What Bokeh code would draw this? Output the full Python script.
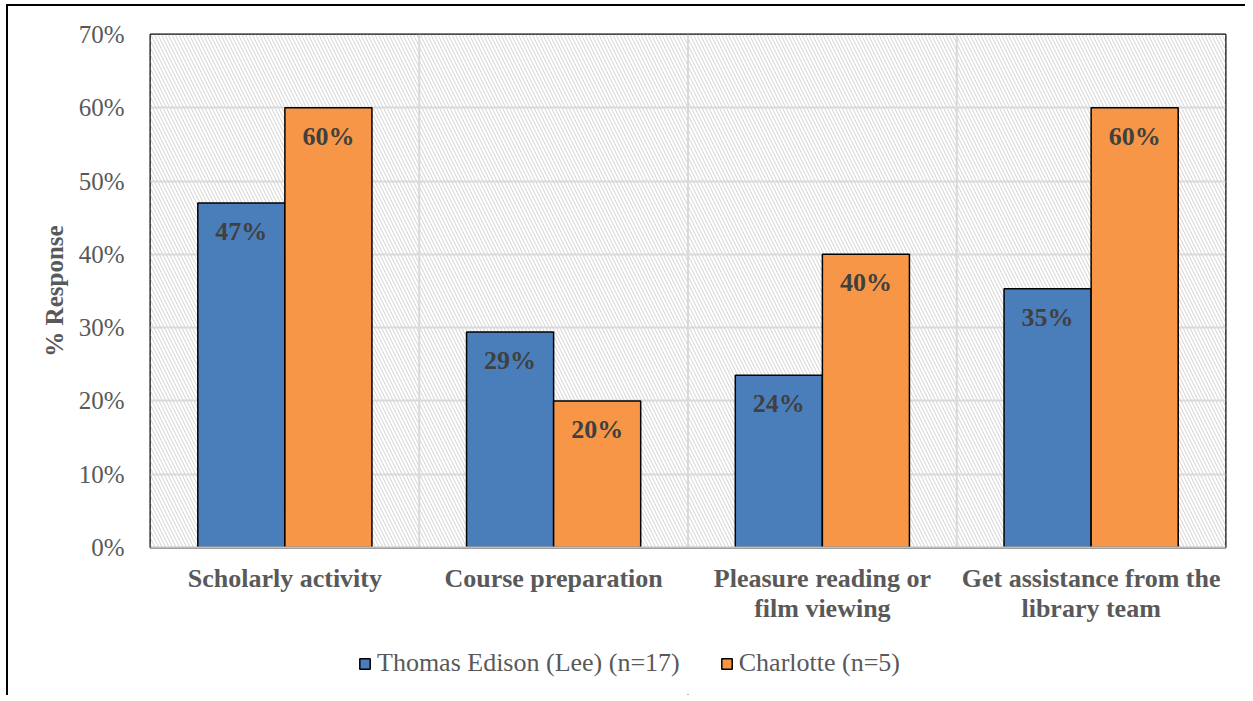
from bokeh.plotting import figure
from bokeh.layouts import column
from bokeh.models import (FactorRange, Range1d, ColumnDataSource, BoxAnnotation, Span,
                          Legend, LegendItem, NumeralTickFormatter, FixedTicker)
from bokeh.transform import dodge
from bokeh.core.properties import value
from bokeh.embed import file_html
from bokeh.resources import INLINE

categories = ["Scholarly activity", "Course preparation",
              "Pleasure reading or\nfilm viewing", "Get assistance from the\nlibrary team"]
series_names = ["Thomas Edison (Lee) (n=17)", "Charlotte (n=5)"]
thomas = [0.47, 0.294, 0.235, 0.353]
charlotte = [0.60, 0.20, 0.40, 0.60]
y_ticks = [0.0, 0.1, 0.2, 0.3, 0.4, 0.5, 0.6, 0.7]

FONT = "Liberation Serif"
GRAY = "#595959"
BLUE = "#4a7ebb"
ORANGE = "#f79646"

src = ColumnDataSource(dict(
    cat=categories,
    thomas=thomas,
    charlotte=charlotte,
    thomas_lbl=[f"{round(v * 100)}%" for v in thomas],
    charlotte_lbl=[f"{round(v * 100)}%" for v in charlotte],
))

p = figure(x_range=FactorRange(*categories), y_range=Range1d(0, 0.7),
           width=1237, height=619, output_backend="svg", toolbar_location=None,
           min_border_left=142, min_border_top=28, min_border_right=20, min_border_bottom=77)

# hatched background
bg = BoxAnnotation(fill_color="white", fill_alpha=1.0, line_color=None,
                   hatch_pattern="\\", hatch_color="#d2d2d2", hatch_scale=7,
                   hatch_weight=1.0, level="image")
p.add_layout(bg)

p.ygrid.grid_line_color = "#d9d9d9"
p.ygrid.grid_line_width = 2
p.ygrid.ticker = FixedTicker(ticks=y_ticks)
p.xgrid.visible = False
for b in [1, 2, 3]:
    p.add_layout(Span(location=b, dimension="height", line_color="#d9d9d9",
                      line_width=2, level="underlay"))

bw = 0.324
p.vbar(x=dodge("cat", -bw / 2, range=p.x_range), top="thomas", width=bw, source=src,
       fill_color=BLUE, line_color="black", line_width=1.5)
p.vbar(x=dodge("cat", bw / 2, range=p.x_range), top="charlotte", width=bw, source=src,
       fill_color=ORANGE, line_color="black", line_width=1.5)

for col, off in [("thomas", -bw / 2), ("charlotte", bw / 2)]:
    p.text(x=dodge("cat", off, range=p.x_range), y=col, text=col + "_lbl", source=src,
           text_font=value(FONT), text_font_style="bold", text_font_size="26px",
           text_color="#404040", text_align="center", text_baseline="top", y_offset=14)

p.outline_line_color = "black"
p.outline_line_width = 2

p.yaxis.ticker = FixedTicker(ticks=y_ticks)
p.yaxis.formatter = NumeralTickFormatter(format="0%")
p.yaxis.axis_line_color = None
p.yaxis.major_tick_line_color = None
p.yaxis.minor_tick_line_color = None
p.yaxis.major_label_standoff = 20
p.yaxis.major_label_text_font = FONT
p.yaxis.major_label_text_font_size = "25px"
p.yaxis.major_label_text_color = GRAY
p.yaxis.axis_label = "% Response"
p.yaxis.axis_label_text_font = FONT
p.yaxis.axis_label_text_font_style = "bold"
p.yaxis.axis_label_text_font_size = "25px"
p.yaxis.axis_label_text_color = GRAY
p.yaxis.axis_label_standoff = 8

p.xaxis.axis_line_color = "#bfbfbf"
p.xaxis.axis_line_width = 2
p.xaxis.major_tick_line_color = None
p.xaxis.minor_tick_line_color = None
p.xaxis.major_label_standoff = 10
p.xaxis.major_label_text_font = FONT
p.xaxis.major_label_text_font_style = "bold"
p.xaxis.major_label_text_font_size = "26px"
p.xaxis.major_label_text_line_height = 1.05
p.xaxis.major_label_text_color = GRAY

# legend strip (separate figure so it is not clipped by the main frame)
lg = figure(width=1237, height=70, output_backend="svg", toolbar_location=None,
            x_range=Range1d(0, 1), y_range=Range1d(0, 1),
            x_axis_type=None, y_axis_type=None, min_border=0)
lg.outline_line_color = None
lg.grid.visible = False
# proxy glyphs placed below the visible range: only their legend swatches show
d1 = lg.vbar(x=[0.5], bottom=[-10], top=[-5], width=0.001,
             fill_color=BLUE, line_color="black", line_width=1.5)
d2 = lg.vbar(x=[0.5], bottom=[-10], top=[-5], width=0.001,
             fill_color=ORANGE, line_color="black", line_width=1.5)
legend = Legend(items=[LegendItem(label=series_names[0], renderers=[d1]),
                       LegendItem(label=series_names[1], renderers=[d2])],
                orientation="horizontal", location=(208, 17),
                glyph_width=13, glyph_height=13, label_standoff=6, spacing=40,
                padding=0, margin=0, border_line_color=None, background_fill_alpha=0,
                label_text_font=FONT, label_text_font_size="26px", label_text_color=GRAY)
lg.add_layout(legend, "center")

layout = column(p, lg, spacing=0)
layout.styles = {"border-left": "2px solid black", "border-top": "2px solid black",
                 "margin-left": "6px", "margin-top": "4px"}

open("out.html", "w").write(file_html(layout, INLINE))
